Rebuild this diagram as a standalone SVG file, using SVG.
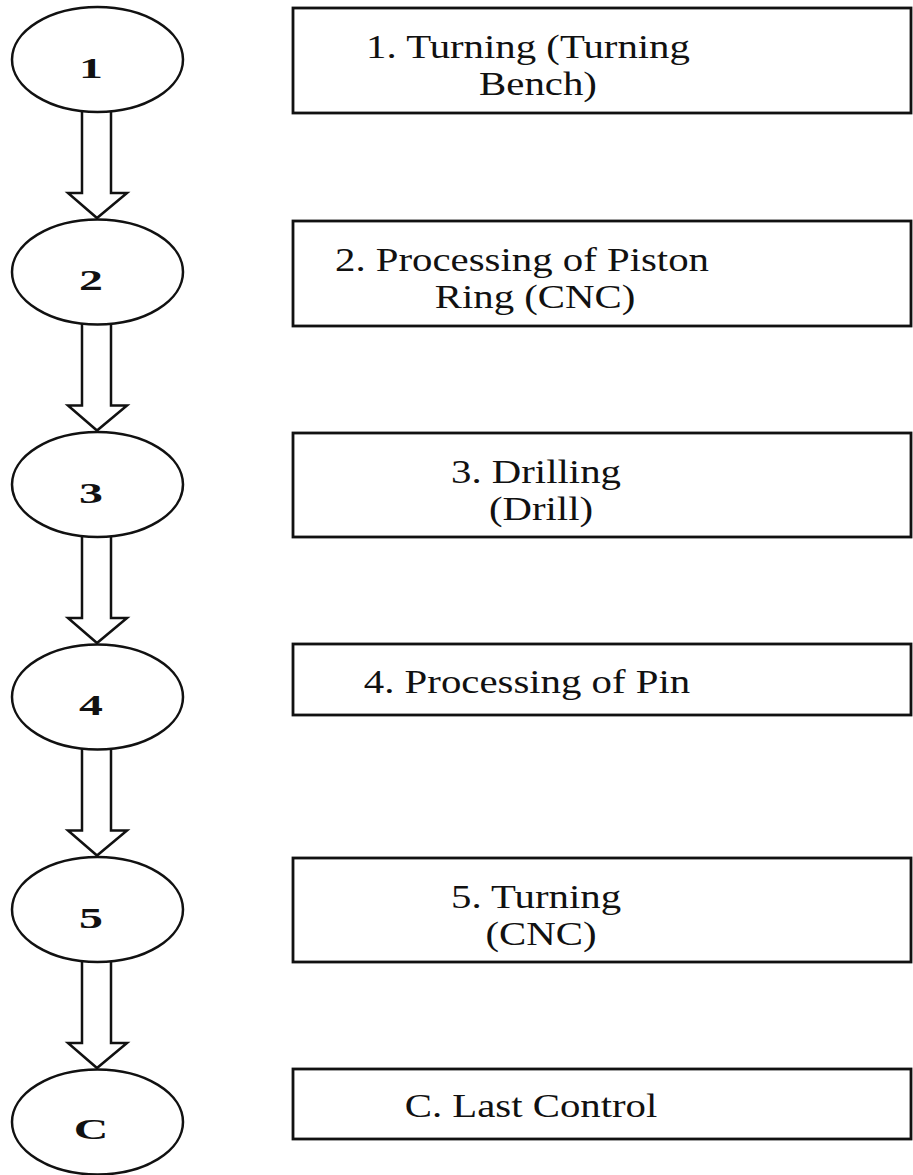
<svg xmlns="http://www.w3.org/2000/svg" width="913" height="1175" viewBox="0 0 913 1175">
  <style>
    .step { fill: #fff; stroke: #111; stroke-width: 2.5; }
    .box { fill: #fff; stroke: #111; stroke-width: 2.8; }
    .arrow { fill: #fff; stroke: #111; stroke-width: 2.5; stroke-linejoin: miter; }
    .num { font-family: "Liberation Serif", "Times New Roman", serif; font-weight: bold; font-size: 29px; fill: #111; text-anchor: middle; }
    .lbl { font-family: "Liberation Serif", "Times New Roman", serif; font-size: 34px; fill: #111; text-anchor: middle; }
  </style>
  <rect width="913" height="1175" fill="#fff"/>

  <!-- hollow block arrows between the step circles -->
  <g id="connectors">
    <path class="arrow" d="M82,111 V193 H68 L97,218 L127,193 H111 V111"/>
    <path class="arrow" d="M82,323.5 V405.5 H68 L97,430.5 L127,405.5 H111 V323.5"/>
    <path class="arrow" d="M82,536 V618 H68 L97,643 L127,618 H111 V536"/>
    <path class="arrow" d="M82,748.5 V830.5 H68 L97,855.5 L127,830.5 H111 V748.5"/>
    <path class="arrow" d="M82,961 V1043 H68 L97,1068 L127,1043 H111 V961"/>
  </g>

  <!-- step circles -->
  <g id="step-1">
    <ellipse class="step" cx="97.5" cy="59.5" rx="85.5" ry="52.5"/>
    <text class="num" transform="translate(91,77.5) scale(1.65,1)">1</text>
  </g>
  <g id="step-2">
    <ellipse class="step" cx="97.5" cy="272" rx="85.5" ry="52.5"/>
    <text class="num" transform="translate(91,290) scale(1.65,1)">2</text>
  </g>
  <g id="step-3">
    <ellipse class="step" cx="97.5" cy="484.5" rx="85.5" ry="52.5"/>
    <text class="num" transform="translate(91,502.5) scale(1.65,1)">3</text>
  </g>
  <g id="step-4">
    <ellipse class="step" cx="97.5" cy="697" rx="85.5" ry="52.5"/>
    <text class="num" transform="translate(91,715) scale(1.65,1)">4</text>
  </g>
  <g id="step-5">
    <ellipse class="step" cx="97.5" cy="909.5" rx="85.5" ry="52.5"/>
    <text class="num" transform="translate(91,927.5) scale(1.65,1)">5</text>
  </g>
  <g id="step-c">
    <ellipse class="step" cx="97.5" cy="1122" rx="85.5" ry="52.5"/>
    <text class="num" transform="translate(91,1139) scale(1.65,1)">C</text>
  </g>

  <!-- description boxes -->
  <g id="desc-1">
    <rect class="box" x="293" y="8" width="618" height="105"/>
    <text class="lbl" transform="translate(528,58) scale(1.2,1)">1. Turning (Turning</text>
    <text class="lbl" transform="translate(538,95) scale(1.2,1)">Bench)</text>
  </g>
  <g id="desc-2">
    <rect class="box" x="293" y="221" width="618" height="105"/>
    <text class="lbl" transform="translate(522,271) scale(1.2,1)">2. Processing of Piston</text>
    <text class="lbl" transform="translate(535,308) scale(1.2,1)">Ring (CNC)</text>
  </g>
  <g id="desc-3">
    <rect class="box" x="293" y="433" width="618" height="104"/>
    <text class="lbl" transform="translate(536,483) scale(1.2,1)">3. Drilling</text>
    <text class="lbl" transform="translate(541,520) scale(1.2,1)">(Drill)</text>
  </g>
  <g id="desc-4">
    <rect class="box" x="293" y="644" width="618" height="71"/>
    <text class="lbl" transform="translate(527,693) scale(1.2,1)">4. Processing of Pin</text>
  </g>
  <g id="desc-5">
    <rect class="box" x="293" y="858" width="618" height="104"/>
    <text class="lbl" transform="translate(536,908) scale(1.2,1)">5. Turning</text>
    <text class="lbl" transform="translate(541,945) scale(1.2,1)">(CNC)</text>
  </g>
  <g id="desc-c">
    <rect class="box" x="293" y="1069" width="618" height="70"/>
    <text class="lbl" transform="translate(531,1117) scale(1.2,1)">C. Last Control</text>
  </g>
</svg>
